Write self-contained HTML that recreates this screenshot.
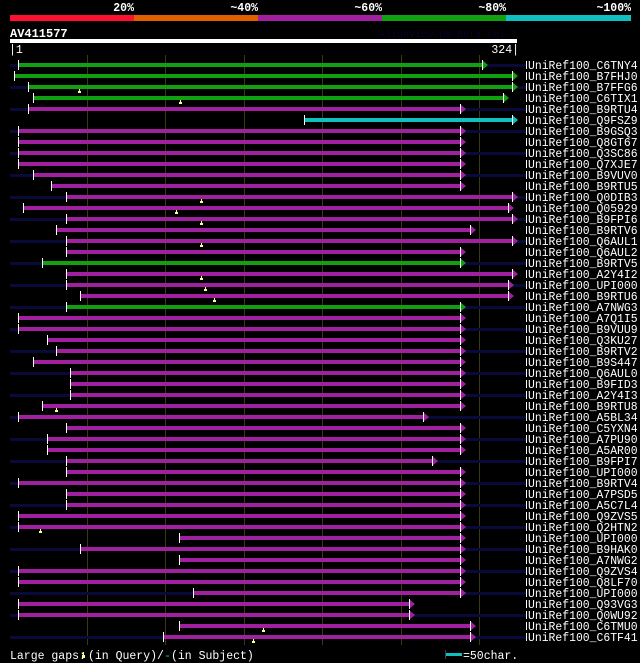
<!DOCTYPE html>
<html><head><meta charset="utf-8">
<style>
html,body{margin:0;padding:0;background:#000;width:640px;height:663px;overflow:hidden}
svg{display:block}
text{font-family:"Liberation Mono",monospace}
</style></head>
<body>
<svg id="chart" width="640" height="663" viewBox="0 0 640 663" xmlns="http://www.w3.org/2000/svg" shape-rendering="crispEdges">
<rect x="0" y="0" width="640" height="663" fill="#000"/>
<g>
<rect x="10" y="15" width="124" height="6" fill="#ff1030"/>
<rect x="134" y="15" width="124" height="6" fill="#e06000"/>
<rect x="258" y="15" width="124" height="6" fill="#a020a0"/>
<rect x="382" y="15" width="124" height="6" fill="#10a010"/>
<rect x="506" y="15" width="125" height="6" fill="#10c0c0"/>
<g fill="#fff" font-size="11.5" font-weight="bold" text-anchor="end">
<text x="134" y="11">20%</text>
<text x="258" y="11">~40%</text>
<text x="382" y="11">~60%</text>
<text x="506" y="11">~80%</text>
<text x="631" y="11">~100%</text>
</g>
</g>
<text x="10" y="37" fill="#fff" font-size="12" font-weight="bold">AV411577</text>
<text x="517" y="37" fill="#05052a" font-size="10" text-anchor="end">AlignView.pm Beta rel.7</text>
<rect x="10" y="39" width="507" height="4" fill="#fff"/>
<text x="9" y="53" fill="#fff" font-size="11.5">|1</text>
<text x="519" y="53" fill="#fff" font-size="11.5" text-anchor="end">324|</text>
<g id="grid"></g>
<g id="rows"></g>
<g>
<text x="10" y="659" fill="#fff" font-size="11.5">Large gaps:</text>
<rect x="83" y="652" width="1" height="3" fill="#ffff80"/>
<rect x="82" y="655" width="3" height="3" fill="#ffff80"/>
<text x="88" y="659" fill="#fff" font-size="11.5">(in Query)/</text>
<text x="164" y="659" fill="#10c0c0" font-size="11.5">-</text>
<text x="171" y="659" fill="#fff" font-size="11.5">(in Subject)</text>
<rect x="445" y="653" width="17" height="3" fill="#10c0c0"/>
<rect x="445" y="650" width="1" height="9" fill="#444"/>
<text x="463" y="659" fill="#fff" font-size="11.5">=50char.</text>
</g>
</svg>
<script>
const names = ["C6TNY4","B7FHJ0","B7FFG6","C6TIX1","B9RTU4","Q9FSZ9","B9GSQ3","Q8GT67","Q3SC86","Q7XJE7","B9VUV0","B9RTU5","Q0DIB3","Q05929","B9FPI6","B9RTV6","Q6AUL1","Q6AUL2","B9RTV5","A2Y4I2","UPI000..","B9RTU6","A7NWG3","A7Q1I5","B9VUU9","Q3KU27","B9RTV2","B9S447","Q6AUL0","B9FID3","A2Y4I3","B9RTU8","A5BL34","C5YXN4","A7PU90","A5AR00","B9FPI7","UPI000..","B9RTV4","A7PSD5","A5C7L4","Q9ZVS5","Q2HTN2","UPI000..","B9HAK0","A7NWG2","Q9ZVS4","Q8LF70","UPI000..","Q93VG3","Q0WU92","C6TMU0","C6TF41"];
const starts = [7,4,13,16,13,189,7,7,7,7,16,28,37,10,37,31,37,37,22,37,37,46,37,7,7,25,31,16,40,40,40,22,7,37,25,25,37,37,7,37,37,7,7,109,46,109,7,7,118,7,7,109,99];
const ends = [302,321,321,315,288,321,288,288,288,288,288,288,321,318,321,294,321,288,288,321,318,318,288,288,288,288,288,288,288,288,288,288,264,288,288,288,270,288,288,288,288,288,288,288,288,288,288,288,288,255,255,294,294];
const identity = ["g","g","g","g","m","c","m","m","m","m","m","m","m","m","m","m","m","m","g","m","m","m","g","m","m","m","m","m","m","m","m","m","m","m","m","m","m","m","m","m","m","m","m","m","m","m","m","m","m","m","m","m","m"];
const gapRows = [2,3,12,13,14,16,19,20,21,31,42,51,52];
const gapPos = [45,109,123,107,123,123,123,125,131,30,20,162,156];
const gridPos = [50,100,150,200,250,300];

const colorOf = {g:"#10a010", m:"#a020a0", c:"#10c0c0"};
const NS = "http://www.w3.org/2000/svg";
const qLen = 324, x0 = 10, x1 = 517;
function xs(p){ return Math.round(x0 + (p-1)*(x1-x0)/(qLen-1)); }
function yr(i){ return 64 + i*11; }
function mk(tag, attrs, parent){
  const e = document.createElementNS(NS, tag);
  for (const k in attrs) e.setAttribute(k, attrs[k]);
  parent.appendChild(e);
  return e;
}
const grid = document.getElementById('grid');
gridPos.forEach(p => {
  const l = mk('rect', {x: xs(p), y: 55, width: 1, height: 590, fill: '#3a3a10'}, grid);
  
  
});
const rows = document.getElementById('rows');
names.forEach((n, i) => {
  const g = mk('g', {}, rows);
  
  
  const y = yr(i);
  if (i % 2 === 0) {
    const bg = mk('rect', {x: 10, y: y, width: 517, height: 3, fill: '#0a0a3a'}, g);
    
    
  }
  const sx = xs(starts[i]), ex = xs(ends[i]);
  const col = colorOf[identity[i]];
  const bar = mk('rect', {x: sx, y: y-1, width: ex-sx, height: 4, fill: col}, g);
  
  
  const st = mk('rect', {x: sx-1, y: y-4, width: 1, height: 10, fill: '#fff'}, g);
  
  
  const ar = mk('polygon', {points: `${ex},${y-4} ${ex+6},${y+1} ${ex},${y+6}`, fill: col, 'shape-rendering': 'auto'}, g);
  
  
  const ae = mk('rect', {x: ex, y: y-4, width: 1, height: 10, fill: '#fff'}, g);
  
  
  const br = mk('rect', {x: 526, y: y-3, width: 1, height: 8, fill: '#fff'}, g);
  
  
  const label = 'UniRef100_' + n;
  const t = mk('text', {x: 528, y: y+5, fill: '#fff', 'font-size': '11.5', textLength: (label.length*6.85).toFixed(1), lengthAdjust: 'spacingAndGlyphs'}, g);
  t.textContent = label;
  
  
});
gapRows.forEach((r, k) => {
  const y = yr(r), x = xs(gapPos[k]);
  const s = mk('rect', {x: x, y: y+3, width: 1, height: 3, fill: '#ffff80'}, rows);
  
  
  const b = mk('rect', {x: x-1, y: y+5, width: 3, height: 2, fill: '#ffff80'}, rows);
  
  
});
</script>
</body></html>
